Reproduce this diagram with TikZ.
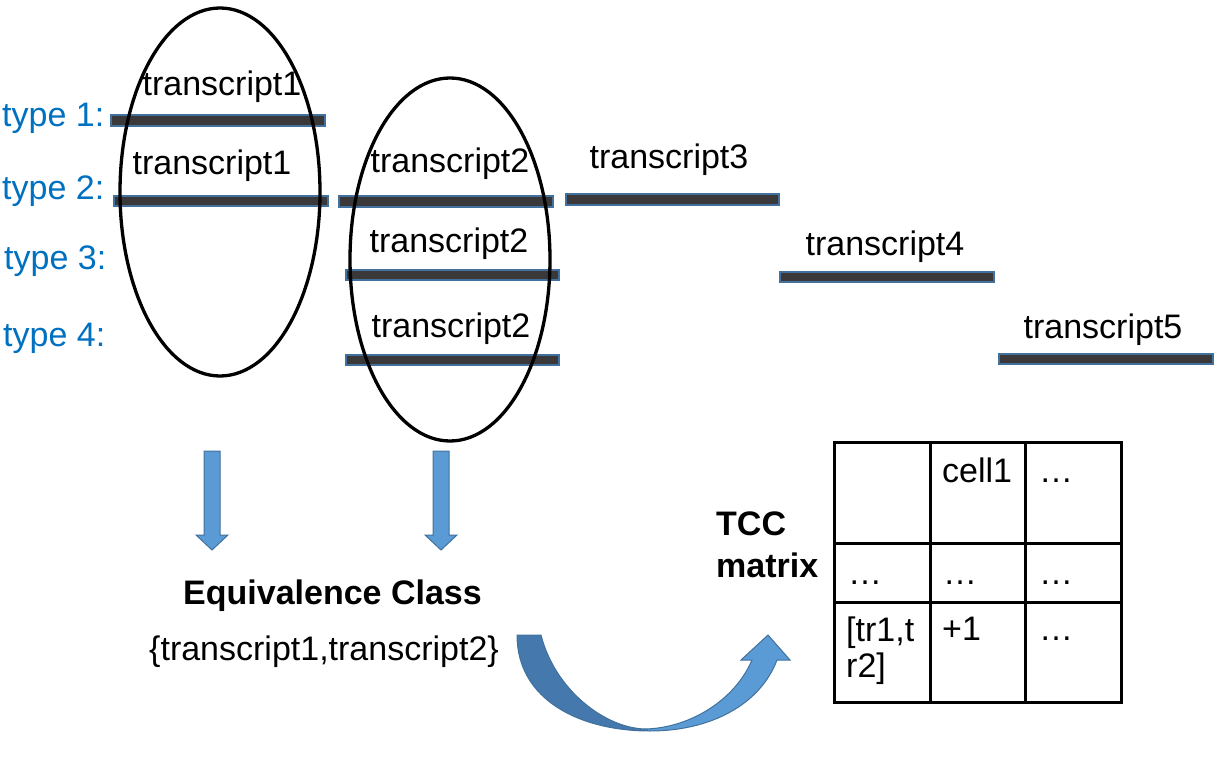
\documentclass[tikz,border=0pt]{standalone}
\usepackage{fontspec}
\setmainfont{Liberation Sans}
\definecolor{typeblue}{RGB}{0,112,192}
\definecolor{barfill}{RGB}{58,56,56}
\definecolor{barline}{RGB}{65,113,156}
\definecolor{arrfill}{RGB}{91,155,213}
\definecolor{arrdark}{RGB}{69,120,172}
\definecolor{arrline}{RGB}{65,113,156}
\begin{document}
\begin{tikzpicture}[x=1pt,y=-1pt,
  every node/.style={inner sep=0pt, font=\fontsize{34}{40}\selectfont},
  lbl/.style={text=typeblue, anchor=base west},
  tx/.style={anchor=base},
  bar/.style={fill=barfill, draw=barline, line width=2pt},
  ell/.style={draw=black, line width=3.3pt},
  blk/.style={fill=arrfill, draw=arrline, line width=1pt},
  gridline/.style={draw=black, line width=3pt},
  cell/.style={anchor=base west},
  boldtx/.style={font=\fontsize{34}{40}\selectfont\bfseries}]
\useasboundingbox (0,0) rectangle (1219,757);

% type labels
\node[lbl] (type1) at (2,127) {type 1:};
\node[lbl] (type2) at (2,200) {type 2:};
\node[lbl] (type3) at (4,269) {type 3:};
\node[lbl] (type4) at (3,346) {type 4:};

% bars
\draw[bar] (111,115.5) rectangle (325,126);
\draw[bar] (114,196.5) rectangle (328,206.5);
\draw[bar] (339,196.5) rectangle (553,207);
\draw[bar] (566,194.5) rectangle (779,205);
\draw[bar] (346,269.5) rectangle (559,280);
\draw[bar] (780,271.5) rectangle (994,282);
\draw[bar] (346,354.5) rectangle (559,365);
\draw[bar] (999,353.5) rectangle (1213,364);

% transcript labels
\node[tx] (t1a) at (222,96) {transcript1};
\node[tx] (t1b) at (212,175) {transcript1};
\node[tx] (t2a) at (450,172) {transcript2};
\node[tx] (t3) at (669,169) {transcript3};
\node[tx] (t2b) at (449,252) {transcript2};
\node[tx] (t4) at (885,255) {transcript4};
\node[tx] (t2c) at (451,337) {transcript2};
\node[tx] (t5) at (1103,338) {transcript5};

% ellipses
\draw[ell] (220,192) ellipse [x radius=100, y radius=184];
\draw[ell] (450,259.5) ellipse [x radius=100, y radius=181.5];

% down block arrows
\draw[blk] (204,451) -- (220,451) -- (220,535) -- (228,535) -- (212,550) -- (196,535) -- (204,535) -- cycle;
\draw[blk] (433,451) -- (449,451) -- (449,535) -- (457,535) -- (441,550) -- (425,535) -- (433,535) -- cycle;

% equivalence class
\node[tx, boldtx] (eqc) at (332.5,604) {Equivalence Class};
\node[tx] (eqset) at (324,660) {\{transcript1,transcript2\}};

% curved arrow
\def\curvedarrow{(517,635) .. controls (517,700) and (580,731) .. (650,731)
  .. controls (710,731) and (760,705) .. (777,660)
  -- (790,660) -- (768,635) -- (741,660) -- (752,660)
  .. controls (735,700) and (690,728) .. (645,729)
  .. controls (605,728) and (555,690) .. (541,635) -- cycle}
\begin{scope}
  \clip (500,600) rectangle (648,757);
  \fill[arrdark] \curvedarrow;
\end{scope}
\begin{scope}
  \clip (648,600) rectangle (820,757);
  \fill[arrfill] \curvedarrow;
\end{scope}
\draw[arrline, line width=1pt] \curvedarrow;

% TCC matrix label
\node[boldtx, anchor=base west] (tcc) at (716,535) {TCC};
\node[boldtx, anchor=base west] (mtx) at (716,577) {matrix};

% table
\draw[gridline] (834,442) rectangle (1121,702);
\draw[gridline] (930,442) -- (930,702);
\draw[gridline] (1025,442) -- (1025,702);
\draw[gridline] (834,543) -- (1121,543);
\draw[gridline] (834,602) -- (1121,602);

\node[cell] (c12) at (942,482) {cell1};
\node[cell] (c13) at (1039,482) {…};
\node[cell] (c21) at (848,584) {…};
\node[cell] (c22) at (943,584) {…};
\node[cell] (c23) at (1039,584) {…};
\node[cell] (c31a) at (846,641) {[tr1,t};
\node[cell] (c31b) at (846,677) {r2]};
\node[cell] (c32) at (942,640) {+1};
\node[cell] (c33) at (1039,640) {…};
\end{tikzpicture}
\end{document}
